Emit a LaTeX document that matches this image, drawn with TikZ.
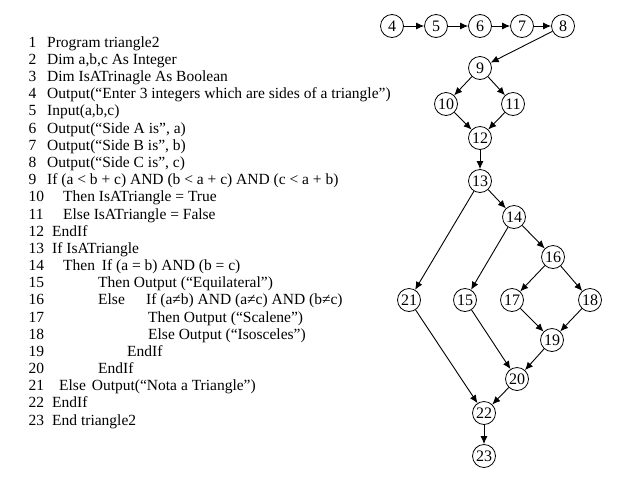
\documentclass[tikz,border=0pt]{standalone}
\usepackage{fontspec}
\setmainfont{Liberation Serif}
\usetikzlibrary{arrows.meta}

\begin{document}
\begin{tikzpicture}[x=1pt, y=-1pt,
  codeline/.style={anchor=base west, inner sep=0pt, font=\fontsize{15.5}{17}\selectfont},
  blk/.style={draw, circle, line width=0.8pt, minimum size=23pt, inner sep=0pt,
              font=\fontsize{16}{16}\selectfont},
  arr/.style={-{Latex[length=8pt,width=7pt]}, line width=0.9pt}]
\useasboundingbox (0,0) rectangle (620,480);
% program listing
\foreach \n/\x/\txt in {1/47/{Program triangle2}, 2/47/{Dim a,b,c As Integer},
    3/47/{Dim IsATrinagle As Boolean},
    4/47/{Output(“Enter 3 integers which are sides of a triangle”)},
    5/47/{Input(a,b,c)}, 6/47/{Output(“Side A is”, a)}, 7/47/{Output(“Side B is”, b)},
    8/47/{Output(“Side C is”, c)}, 9/47/{If (a < b + c) AND (b < a + c) AND (c < a + b)},
    10/63/{Then IsATriangle = True}, 11/63/{Else IsATriangle = False},
    12/52/{EndIf}, 13/52/{If IsATriangle},
    14/63/{\makebox[38.7pt][l]{Then}If (a = b) AND (b = c)},
    15/98/{Then Output (“Equilateral”)},
    16/98/{\makebox[48pt][l]{Else}If (a≠b) AND (a≠c) AND (b≠c)},
    17/148/{Then Output (“Scalene”)}, 18/148/{Else Output (“Isosceles”)},
    19/127/{EndIf}, 20/98/{EndIf},
    21/59/{\makebox[32.7pt][l]{Else}Output(“Nota a Triangle”)},
    22/52/{EndIf}, 23/52/{End triangle2}}
  {\node[codeline] (n\n) at (28.5, {47.3+(\n-1)*17.17}) {\n};
   \node[codeline] (l\n) at (\x, {47.3+(\n-1)*17.17}) {\txt};}
% flow graph
\node[blk] (b4) at (392,26) {4};
\node[blk] (b5) at (436,26) {5};
\node[blk] (b6) at (480,26) {6};
\node[blk] (b7) at (522,26) {7};
\node[blk] (b8) at (563,26) {8};
\node[blk] (b9) at (480,68) {9};
\node[blk] (b10) at (446,104) {10};
\node[blk] (b11) at (513,104) {11};
\node[blk] (b12) at (480,138) {12};
\node[blk] (b13) at (480,181) {13};
\node[blk] (b14) at (514,217) {14};
\node[blk] (b16) at (553,257) {16};
\node[blk] (b21) at (409,300) {21};
\node[blk] (b15) at (465,300) {15};
\node[blk] (b17) at (512,300) {17};
\node[blk] (b18) at (590,300) {18};
\node[blk] (b19) at (552,340) {19};
\node[blk] (b20) at (517,379) {20};
\node[blk] (b22) at (484,413) {22};
\node[blk] (b23) at (484,456) {23};
\draw[arr] (b4) -- (b5); \draw[arr] (b5) -- (b6); \draw[arr] (b6) -- (b7); \draw[arr] (b7) -- (b8);
\draw[arr] (b8) -- (b9);
\draw[arr] (b9) -- (b10); \draw[arr] (b9) -- (b11);
\draw[arr] (b10) -- (b12); \draw[arr] (b11) -- (b12);
\draw[arr] (b12) -- (b13);
\draw[arr] (b13) -- (b21); \draw[arr] (b13) -- (b14);
\draw[arr] (b14) -- (b15); \draw[arr] (b14) -- (b16);
\draw[arr] (b16) -- (b17); \draw[arr] (b16) -- (b18);
\draw[arr] (b17) -- (b19); \draw[arr] (b18) -- (b19);
\draw[arr] (b15) -- (b20); \draw[arr] (b19) -- (b20);
\draw[arr] (b21) -- (b22); \draw[arr] (b20) -- (b22);
\draw[arr] (b22) -- (b23);
\end{tikzpicture}
\end{document}
